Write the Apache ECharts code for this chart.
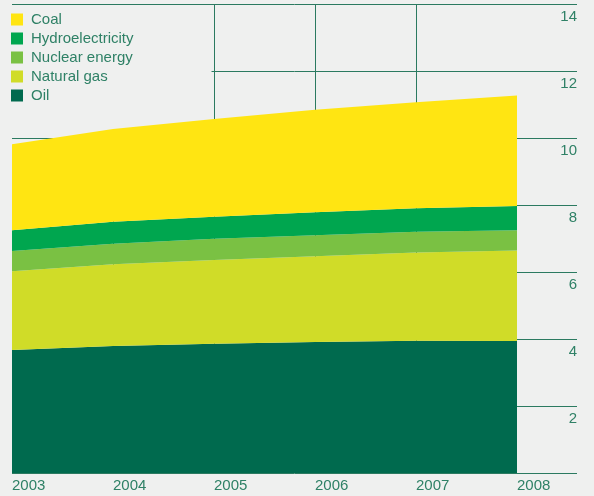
<!DOCTYPE html>
<html>
<head>
<meta charset="utf-8">
<script src="https://cdn.jsdelivr.net/npm/echarts@6/dist/echarts.min.js"></script>
<style>
  html, body { margin: 0; padding: 0; background: #eff0ef; }
  #chart { width: 594px; height: 496px; }
</style>
</head>
<body>
<div id="chart"></div>
<script>
var years = ['2003', '2004', '2005', '2006', '2007', '2008'];
var oil = [3.67, 3.79, 3.86, 3.91, 3.95, 3.94];
var naturalGas = [2.35, 2.44, 2.50, 2.56, 2.63, 2.70];
var nuclear = [0.61, 0.61, 0.63, 0.63, 0.62, 0.61];
var hydro = [0.62, 0.66, 0.66, 0.68, 0.70, 0.72];
var coal = [2.56, 2.77, 2.92, 3.06, 3.17, 3.30];
var legendOrder = ['Coal', 'Hydroelectricity', 'Nuclear energy', 'Natural gas', 'Oil'];

var bg = '#eff0ef';
var lineCol = '#2b7a60';
var textCol = '#2f8166';
var font = 'Liberation Sans, Arial, sans-serif';

function area(name, vals, color) {
  return {
    name: name,
    type: 'line',
    stack: 'total',
    xAxisIndex: 0,
    yAxisIndex: 0,
    data: vals,
    showSymbol: false,
    symbol: 'none',
    lineStyle: { width: 0 },
    itemStyle: { color: color },
    areaStyle: { color: color, opacity: 1 },
    silent: true,
    animation: false
  };
}

var chart = echarts.init(document.getElementById('chart'));
chart.setOption({
  backgroundColor: bg,
  animation: false,
  textStyle: { fontFamily: font },
  grid: [
    { left: 12, right: 77, top: 4, bottom: 23 },
    { left: 12, right: 17, top: 4, bottom: 23 }
  ],
  // legend sits on a plain box that hides the grid behind it, but under the areas
  legend: {
    data: legendOrder,
    orient: 'vertical',
    left: 0,
    top: 5,
    padding: [7, 78, 31, 11],
    backgroundColor: bg,
    z: 1,
    icon: 'rect',
    itemWidth: 12,
    itemHeight: 12,
    itemGap: 4,
    selectedMode: false,
    textStyle: { color: textCol, fontSize: 15, fontFamily: font, padding: [0, 0, 0, 3] }
  },
  xAxis: [
    {
      gridIndex: 0,
      type: 'category',
      boundaryGap: false,
      data: years,
      axisLine: { show: false },
      axisTick: { show: false },
      axisLabel: { color: textCol, fontSize: 15, align: 'left', margin: 5, interval: 0 },
      splitLine: {
        show: true,
        interval: function (i) { return i > 0 && i < years.length - 1; },
        lineStyle: { color: lineCol, width: 1 }
      }
    },
    { gridIndex: 1, type: 'value', min: 0, max: 1, show: false }
  ],
  yAxis: [
    { gridIndex: 0, type: 'value', min: 0, max: 14, show: false },
    {
      gridIndex: 1,
      type: 'value',
      position: 'right',
      min: 0,
      max: 14,
      interval: 2,
      axisLine: { show: false },
      axisTick: { show: false },
      axisLabel: {
        inside: true, margin: 0, color: textCol, fontSize: 15,
        verticalAlign: 'top', padding: [5, 0, 0, 0], showMinLabel: false
      },
      splitLine: { show: true, lineStyle: { color: lineCol, width: 1 } }
    }
  ],
  series: [
    area('Oil', oil, '#006a4e'),
    area('Natural gas', naturalGas, '#d0dc28'),
    area('Nuclear energy', nuclear, '#7ac143'),
    area('Hydroelectricity', hydro, '#00a64f'),
    area('Coal', coal, '#ffe512')
  ]
});
</script>
</body>
</html>
